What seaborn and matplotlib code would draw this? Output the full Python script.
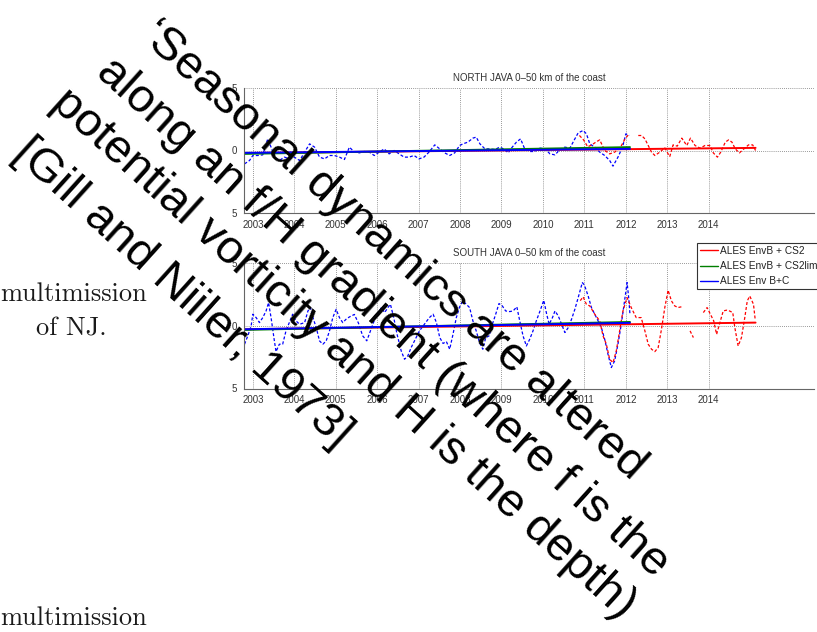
import numpy as np
import pandas as pd
import matplotlib
matplotlib.use("Agg")
import matplotlib.pyplot as plt
import seaborn as sns
from matplotlib.lines import Line2D

# ---------------- data ----------------
years_ticks = [2003, 2004, 2005, 2006, 2007, 2008, 2009, 2010, 2011, 2012, 2013, 2014]
ytick_vals = [5, 0, -5]
ytick_labels = ["5", "0", "5"]
titles = ["NORTH JAVA 0\u201350 km of the coast", "SOUTH JAVA 0\u201350 km of the coast"]
legend_labels = ["ALES EnvB + CS2", "ALES EnvB + CS2lim", "ALES Env B+C"]

north_bc_t = [2002.80, 2002.92, 2003.00, 2003.12, 2003.24, 2003.36, 2003.44, 2003.52, 2003.64, 2003.76,
              2003.89, 2004.00, 2004.13, 2004.25, 2004.37, 2004.49, 2004.61, 2004.73, 2004.85, 2004.97,
              2005.09, 2005.21, 2005.33, 2005.45, 2005.57, 2005.69, 2005.81, 2005.93, 2006.05, 2006.17,
              2006.29, 2006.41, 2006.53, 2006.65, 2006.77, 2006.89, 2007.01, 2007.13, 2007.25, 2007.39,
              2007.51, 2007.63, 2007.75, 2007.87, 2007.99, 2008.07, 2008.19, 2008.31, 2008.39, 2008.48,
              2008.60, 2008.72, 2008.84, 2008.96, 2009.08, 2009.16, 2009.24, 2009.36, 2009.46, 2009.56,
              2009.68, 2009.80, 2009.93, 2010.05, 2010.17, 2010.29, 2010.41, 2010.53, 2010.65, 2010.77,
              2010.85, 2010.97, 2011.05, 2011.13, 2011.25, 2011.37, 2011.49, 2011.61, 2011.69, 2011.81,
              2011.92, 2012.00, 2012.08]
north_bc_v = [-1.07, -0.80, -0.40, -0.40, -0.35, 0.93, 0.27, -0.53, -0.80, -0.53,
              -0.67, -0.53, -0.80, -0.13, 0.53, 0.27, -0.53, -0.67, -0.40, -0.40,
              -0.53, -0.72, 0.27, -0.13, -0.19, -0.08, -0.13, -0.40, -0.13, 0.13,
              -0.27, 0.00, -0.27, -0.53, -0.53, -0.40, -0.67, -0.53, -0.13, 0.45,
              0.13, -0.19, -0.40, -0.19, 0.40, 0.53, 0.67, 0.99, 1.07, 0.53,
              0.13, 0.13, 0.08, 0.27, 0.08, -0.19, 0.19, 0.67, 0.93, 0.13,
              -0.08, -0.08, 0.19, 0.13, -0.27, -0.35, 0.08, 0.27, 0.19, 0.93,
              1.41, 1.60, 1.33, 0.53, 0.27, -0.13, -0.40, -0.80, -1.25, -0.53,
              0.27, 1.33, 1.20]

north_cs2_t = [2010.88, 2010.98, 2011.08, 2011.18, 2011.29, 2011.37, 2011.49, 2011.61, 2011.73, 2011.86,
               2011.98, 2012.06, 2012.18, 2012.30, 2012.38, 2012.46, 2012.54, 2012.62, 2012.70, 2012.82,
               2012.94, 2013.02, 2013.06, 2013.14, 2013.24, 2013.35, 2013.47, 2013.56, 2013.67, 2013.79,
               2013.91, 2014.03, 2014.11, 2014.21, 2014.29, 2014.40, 2014.48, 2014.56, 2014.64, 2014.74,
               2014.85, 2014.96, 2015.06, 2015.13]
north_cs2_v = [1.20, 0.85, 0.30, 0.45, 0.70, 0.85, 0.00, -0.27, -0.13, 0.19,
               0.93, 1.25, np.nan, 1.20, 1.20, 0.93, 0.40, -0.13, -0.40, -0.13,
               0.21, -0.27, -0.48, 0.45, 0.35, 0.99, 0.40, 0.99, 0.40, 0.19,
               0.40, 0.40, -0.19, -0.53, -0.13, 0.67, 0.85, 0.67, 0.13, -0.19,
               0.13, 0.45, 0.45, 0.00]

south_bc_t = [2002.80, 2002.88, 2002.96, 2003.00, 2003.08, 2003.16, 2003.24, 2003.32, 2003.38, 2003.44,
              2003.52, 2003.56, 2003.64, 2003.72, 2003.80, 2003.88, 2003.96, 2004.04, 2004.13, 2004.25,
              2004.33, 2004.39, 2004.45, 2004.53, 2004.61, 2004.69, 2004.77, 2004.85, 2004.93, 2005.01,
              2005.09, 2005.17, 2005.25, 2005.33, 2005.45, 2005.55, 2005.65, 2005.75, 2005.85, 2005.95,
              2006.02, 2006.10, 2006.18, 2006.26, 2006.32, 2006.40, 2006.48, 2006.58, 2006.66, 2006.74,
              2006.82, 2006.90, 2007.02, 2007.14, 2007.26, 2007.35, 2007.43, 2007.51, 2007.59, 2007.67,
              2007.75, 2007.83, 2007.91, 2007.99, 2008.07, 2008.15, 2008.23, 2008.31, 2008.39, 2008.47,
              2008.55, 2008.62, 2008.70, 2008.78, 2008.86, 2008.94, 2009.02, 2009.10, 2009.20, 2009.28,
              2009.37, 2009.44, 2009.52, 2009.60, 2009.68, 2009.76, 2009.84, 2009.93, 2010.02, 2010.09,
              2010.15, 2010.23, 2010.29, 2010.37, 2010.45, 2010.53, 2010.61, 2010.69, 2010.77, 2010.85,
              2010.95, 2011.00, 2011.09, 2011.17, 2011.25, 2011.33, 2011.41, 2011.49, 2011.57, 2011.65,
              2011.73, 2011.81, 2011.89, 2011.97, 2012.03, 2012.07, 2012.10]
south_bc_v = [-1.47, -0.80, -0.01, 0.92, 0.65, 0.25, 0.65, 1.18, 1.84, 0.65,
              -1.21, -2.06, -1.47, -1.47, -0.41, 0.25, 0.92, 0.39, 0.12, 0.25,
              1.18, 1.45, 0.65, -0.15, -1.21, -1.47, -1.21, -0.41, 0.65, 1.31,
              0.65, 0.25, 0.52, 0.70, 0.90, 0.20, -0.80, -1.20, -0.30, 0.60,
              0.90, 1.45, 1.05, 1.45, 1.71, 0.65, -0.68, -2.00, -2.67, -2.40,
              -1.74, -1.21, -0.41, 0.12, 0.65, 0.92, 0.25, -0.94, -1.41, -1.26,
              -1.87, -0.68, 0.65, 1.51, 1.98, 1.71, 1.45, 0.39, -0.41, -1.34,
              -1.87, -0.94, -0.81, 0.12, 0.92, 1.77, 1.58, 1.18, 1.13, 1.18,
              1.51, 0.39, -0.81, -1.61, -1.08, -0.41, 0.39, 1.18, 2.03, 0.92,
              0.12, 0.65, 1.18, 0.78, 0.12, -0.54, -0.15, 0.52, 1.31, 2.24,
              3.44, 3.25, 2.38, 1.45, 0.92, 0.39, -0.15, -1.08, -2.28, -3.33,
              -2.80, -1.47, 0.12, 2.00, 3.44, 2.20, 0.90]

south_cs2_t = [2010.90, 2010.97, 2011.05, 2011.13, 2011.25, 2011.37, 2011.45, 2011.53, 2011.61, 2011.69,
               2011.77, 2011.85, 2011.93, 2012.03, 2012.13, 2012.25, 2012.37, 2012.46, 2012.54, 2012.62,
               2012.70, 2012.78, 2012.86, 2012.94, 2013.02, 2013.10, 2013.18, 2013.26, 2013.34, 2013.45,
               2013.55, 2013.63, 2013.75, 2013.87, 2013.96, 2014.04, 2014.12, 2014.19, 2014.27, 2014.35,
               2014.43, 2014.50, 2014.58, 2014.63, 2014.71, 2014.79, 2014.87, 2014.93, 2014.99, 2015.08,
               2015.12]
south_cs2_v = [2.00, 2.30, 1.70, 1.58, 0.92, 0.39, -0.81, -1.47, -2.67, -2.94,
               -2.00, -0.41, 1.18, 2.24, 1.45, 0.65, 0.65, -0.41, -1.47, -1.87,
               -2.06, -1.74, -0.28, 1.45, 2.83, 1.98, 1.58, 1.45, 1.51, np.nan,
               -0.41, -0.94, np.nan, 1.05, 1.45, 0.92, 0.39, -0.68, 0.25, 1.18,
               1.24, 1.18, 1.05, -0.15, -1.61, -0.94, 0.65, 1.98, 2.37, 1.71,
               0.52]

# trend lines: [start year, end year], [start value, end value]
north_trend_cs2 = ([2002.80, 2015.13], [-0.20, 0.21])
north_trend_lim = ([2002.80, 2012.10], [-0.27, 0.27])
north_trend_bc = ([2002.80, 2012.10], [-0.19, 0.13])
south_trend_cs2 = ([2002.80, 2015.13], [-0.28, 0.25])
south_trend_lim = ([2002.80, 2012.10], [-0.33, 0.30])
south_trend_bc = ([2002.80, 2012.10], [-0.28, 0.23])

overlay_lines = ["\u2018Seasonal dynamics are altered",
                 "along an f/H gradient (where f is the",
                 "potential vorticity and H is the depth)",
                 "[Gill and Niiler, 1973]"]
page_texts = ["multimission", "of NJ.", "multimission"]

# ---------------- style ----------------
sns.set_theme(style="white")
plt.rcParams["font.family"] = ["Liberation Sans", "DejaVu Sans"]

W, H = 817, 632
fig = plt.figure(figsize=(W / 100, H / 100), dpi=100)
fig.patch.set_facecolor("white")

RED, GREEN, BLUE = "#ff0000", "#007f00", "#0000ff"
DASH = (0, (2.4, 1.6))


def fx(px):
    return px / W


def fy(py):
    return 1 - py / H


def seg_frame(t, v):
    df = pd.DataFrame({"year": t, "val": v})
    df["seg"] = df["val"].isna().cumsum()
    return df.dropna()


def draw_panel(ax, title, bc, cs2, tr_cs2, tr_lim, tr_bc):
    d = seg_frame(*bc)
    sns.lineplot(data=d, x="year", y="val", units="seg", estimator=None, sort=False,
                 color=BLUE, lw=0.9, linestyle=DASH, ax=ax, legend=False)
    d = seg_frame(*cs2)
    sns.lineplot(data=d, x="year", y="val", units="seg", estimator=None, sort=False,
                 color=RED, lw=0.9, linestyle=DASH, ax=ax, legend=False)
    for tr, c in [(tr_cs2, RED), (tr_lim, GREEN), (tr_bc, BLUE)]:
        sns.lineplot(x=tr[0], y=tr[1], color=c, lw=1.4, ax=ax, legend=False)
    ax.set_xlim(2002.78, 2016.54)
    ax.set_ylim(-5, 5)
    ax.set_xticks(years_ticks)
    ax.set_xticklabels([str(y) for y in years_ticks])
    ax.set_yticks(ytick_vals)
    ax.set_yticklabels(ytick_labels)
    ax.set_xlabel("")
    ax.set_ylabel("")
    ax.grid(True, linestyle=(0, (1, 1.5)), color="#777777", lw=0.6)
    ax.tick_params(direction="in", length=3, width=0.6, colors="#555555",
                   labelcolor="#333333", labelsize=7)
    ax.tick_params(axis="x", pad=5)
    ax.tick_params(axis="y", pad=5)
    for s in ["top", "right"]:
        ax.spines[s].set_visible(False)
    for s in ["left", "bottom"]:
        ax.spines[s].set_color("#666666")
        ax.spines[s].set_linewidth(0.8)
    ax.set_title(title, fontsize=7, color="#333333", pad=5)


left = fx(243.7)
width = fx(814) - left
ax1 = fig.add_axes([left, fy(213), width, (213 - 88) / H])
ax2 = fig.add_axes([left, fy(388.5), width, (388.5 - 263) / H])

draw_panel(ax1, titles[0], (north_bc_t, north_bc_v), (north_cs2_t, north_cs2_v),
           north_trend_cs2, north_trend_lim, north_trend_bc)
draw_panel(ax2, titles[1], (south_bc_t, south_bc_v), (south_cs2_t, south_cs2_v),
           south_trend_cs2, south_trend_lim, south_trend_bc)

handles = [Line2D([], [], color=c, lw=1.0) for c in (RED, GREEN, BLUE)]
leg = ax2.legend(handles, legend_labels, loc="upper left",
                 bbox_to_anchor=(fx(697), fy(243)), bbox_transform=fig.transFigure,
                 fontsize=7.3, frameon=True, fancybox=False, edgecolor="#333333",
                 framealpha=1, borderpad=0.3, labelspacing=0.5, handlelength=1.8,
                 handletextpad=0.2, borderaxespad=0)
leg.get_frame().set_linewidth(0.8)
for t in leg.get_texts():
    t.set_color("#222222")

# page text (serif)
serif = ["cmr10", "DejaVu Serif"]
fig.text(fx(0), fy(301), page_texts[0], fontsize=19, family=serif, color="#1a1a1a",
         ha="left", va="baseline")
fig.text(fx(36), fy(335), page_texts[1], fontsize=19, family=serif, color="#1a1a1a",
         ha="left", va="baseline")
fig.text(fx(0), fy(625), page_texts[2], fontsize=19, family=serif, color="#1a1a1a",
         ha="left", va="baseline")

# overlay rotated annotation
origins = [(139, 38), (95, 75), (50, 106), (12, 156)]
for s, (ox, oy) in zip(overlay_lines, origins):
    fig.text(fx(ox), fy(oy), s, fontsize=34.2, family=["Liberation Sans", "DejaVu Sans"],
             color="black", rotation=-42, rotation_mode="anchor",
             ha="left", va="baseline", zorder=20)

fig.savefig("out.png", dpi=100, facecolor="white")
